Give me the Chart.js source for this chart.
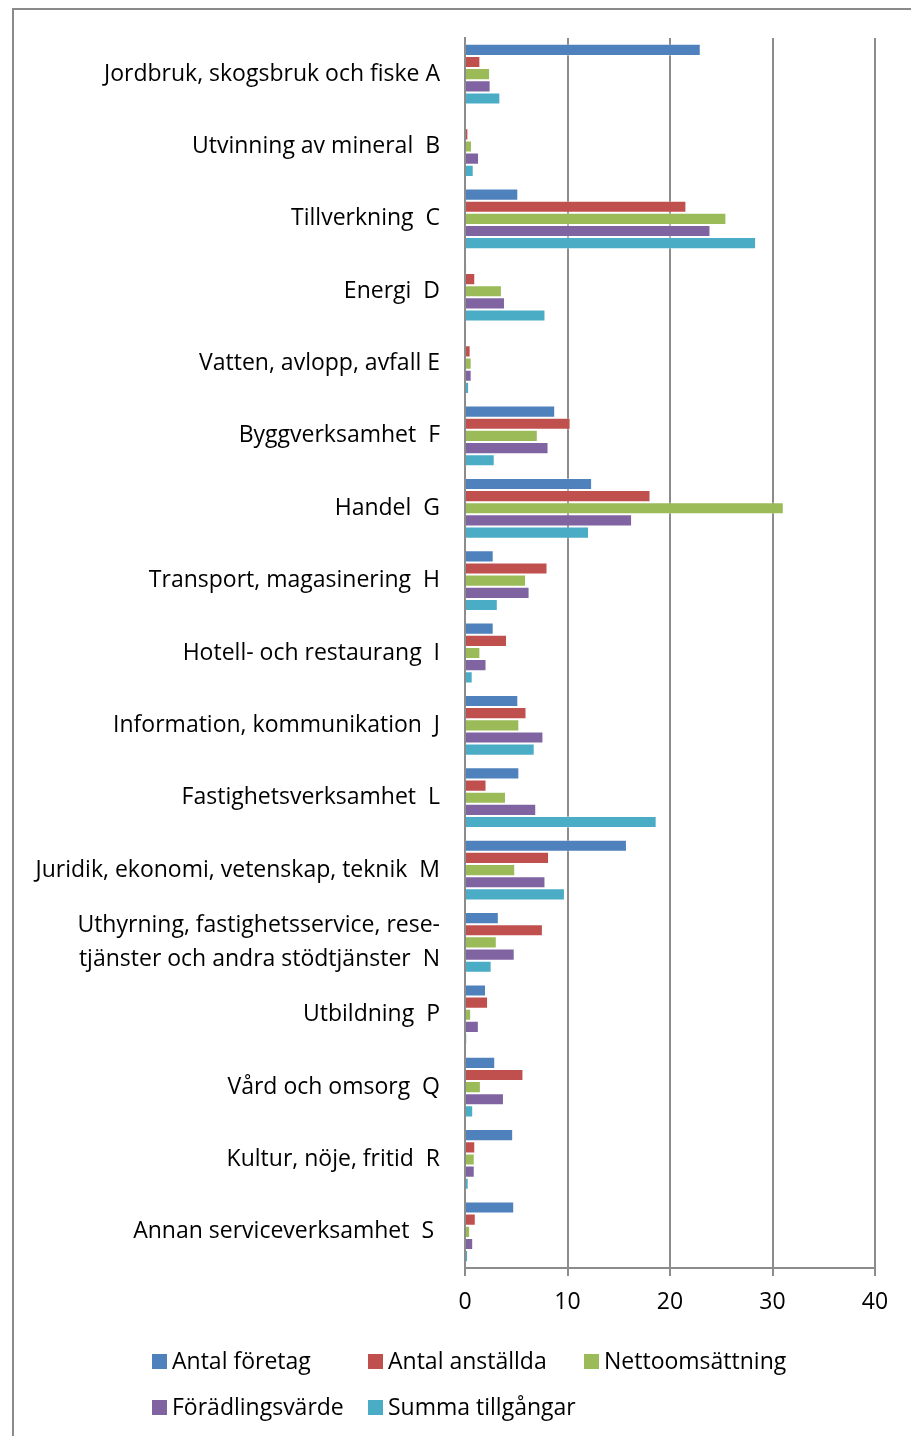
<!DOCTYPE html>
<html>
<head>
<meta charset="utf-8">
<script src="https://cdn.jsdelivr.net/npm/chart.js@4"></script>
<style>
    body { margin: 0; background: #fff; }
    #wrap { position: relative; width: 911px; height: 1436px; overflow: hidden; }
    #frame { position: absolute; left: 12px; top: 8px; width: 1000px; height: 1500px;
             border-left: 2px solid #8a8a8a; border-top: 2px solid #8a8a8a; }
    #myChart { position: absolute; left: 0; top: 0; }
    #legend { position: absolute; left: 152px; top: 1344px; width: 700px;
              font-family: "Open Sans", sans-serif; font-size: 23px; color: #000; }
    .item { position: absolute; white-space: nowrap; line-height: 32px; }
    .item span { display: inline-block; width: 15px; height: 15px; margin-right: 5px; vertical-align: 0px; }
</style>
</head>
<body>
<div id="wrap">
    <div id="frame"></div>
    <canvas id="myChart" width="911" height="1436"></canvas>
    <div id="legend"></div>
</div>
<script>
const categories = [
    "Jordbruk, skogsbruk och fiske A",
    "Utvinning av mineral  B",
    "Tillverkning  C",
    "Energi  D",
    "Vatten, avlopp, avfall E",
    "Byggverksamhet  F",
    "Handel  G",
    "Transport, magasinering  H",
    "Hotell- och restaurang  I",
    "Information, kommunikation  J",
    "Fastighetsverksamhet  L",
    "Juridik, ekonomi, vetenskap, teknik  M",
    ["Uthyrning, fastighetsservice, rese-", "tjänster och andra stödtjänster  N"],
    "Utbildning  P",
    "Vård och omsorg  Q",
    "Kultur, nöje, fritid  R",
    "Annan serviceverksamhet  S "
];

const seriesNames = ["Antal företag", "Antal anställda", "Nettoomsättning", "Förädlingsvärde", "Summa tillgångar"];
const seriesColors = ["#4F81BD", "#C0504D", "#9BBB59", "#8064A2", "#4BACC6"];

const antalForetag   = [23.0, 0.05, 5.2, 0.13, 0.1, 8.8, 12.4, 2.8, 2.8, 5.2, 5.3, 15.8, 3.3, 2.05, 2.95, 4.7, 4.8];
const antalAnstallda = [1.5, 0.33, 21.6, 1.0, 0.55, 10.3, 18.1, 8.05, 4.1, 6.0, 2.1, 8.2, 7.6, 2.25, 5.7, 1.0, 1.05];
const nettoomsattning = [2.45, 0.68, 25.5, 3.6, 0.65, 7.1, 31.1, 5.95, 1.5, 5.3, 4.0, 4.9, 3.1, 0.6, 1.55, 0.95, 0.5];
const foradlingsvarde = [2.5, 1.37, 23.95, 3.9, 0.65, 8.15, 16.3, 6.3, 2.1, 7.65, 6.95, 7.85, 4.85, 1.35, 3.8, 0.95, 0.8];
const summaTillgangar = [3.45, 0.85, 28.4, 7.85, 0.4, 2.9, 12.1, 3.2, 0.75, 6.8, 18.7, 9.75, 2.6, 0.16, 0.8, 0.36, 0.3];

const xTicks = [0, 10, 20, 30, 40];

const seriesValues = [antalForetag, antalAnstallda, nettoomsattning, foradlingsvarde, summaTillgangar];
const gridColor = "#8c8c8c";

const ctx = document.getElementById("myChart").getContext("2d");
const myChart = new Chart(ctx, {
    type: "bar",
    data: {
        labels: categories,
        datasets: seriesNames.map((name, i) => ({
            label: name,
            data: seriesValues[i],
            backgroundColor: seriesColors[i],
            borderColor: "rgba(255,255,255,0.35)",
            borderWidth: 1,
            barPercentage: 1,
            categoryPercentage: 0.84
        }))
    },
    options: {
        indexAxis: "y",
        responsive: false,
        animation: false,
        devicePixelRatio: 1,
        layout: { padding: { left: 0, right: 36, top: 38, bottom: 108 } },
        plugins: {
            legend: { display: false },
            tooltip: { enabled: false }
        },
        scales: {
            x: {
                min: 0,
                max: 40,
                afterBuildTicks: scale => { scale.ticks = xTicks.map(v => ({ value: v })); },
                afterFit: scale => { scale.height = 60; },
                grid: { color: gridColor, lineWidth: 2, tickLength: 8, drawTicks: true },
                border: { display: true, color: gridColor, width: 2 },
                ticks: {
                    color: "#000",
                    padding: 13,
                    font: { family: "Open Sans", size: 23 }
                }
            },
            y: {
                afterFit: scale => {
                    scale.width = 465;
                    scale.paddingTop = 0;
                    scale.paddingBottom = 0;
                },
                grid: { display: false, drawTicks: false },
                border: { display: true, color: gridColor, width: 2 },
                ticks: {
                    color: "#000",
                    padding: 25,
                    autoSkip: false,
                    font: { family: "Open Sans", size: 23, lineHeight: 1.45 }
                }
            }
        }
    }
});

// legend, two rows with fixed columns like the original
const legend = document.getElementById("legend");
seriesNames.forEach((name, i) => {
    const item = document.createElement("div");
    item.className = "item";
    item.style.left = (i % 3) * 216 + "px";
    item.style.top = Math.floor(i / 3) * 46 + "px";
    item.innerHTML = '<span style="background:' + seriesColors[i] + '"></span>' + name;
    legend.appendChild(item);
});
</script>
</body>
</html>
